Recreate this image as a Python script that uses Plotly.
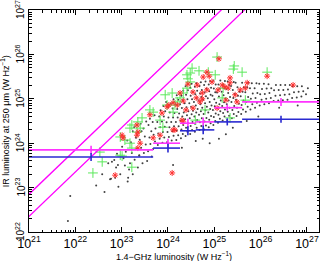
import numpy as np
import plotly.graph_objects as go

# ---------------- data (log10 values) ----------------
black_pts = [
# sparse low-luminosity tail
(21.89,22.81),(21.84,22.25),(22.45,23.05),(22.58,23.3),(22.63,22.9),(22.71,23.55),(22.77,23.2),(22.84,23.62),
(22.88,23.45),(22.93,23.02),(22.9,23.76),(22.97,23.3),(23.04,23.66),(23.01,23.92),(23.07,23.5),(23.13,23.14),
(23.09,23.81),(23.12,24.06),(23.16,23.41),(22.79,23.58),(22.75,23.19),(22.92,23.51),(23.14,23.22),(22.86,23.22),
(23.38,23.73),(23.24,23.3),(23.35,23.45),(23.45,23.55),(23.55,23.6),(23.65,23.7),(24.11,23.51),
# main cloud
(23.18,23.55),(23.22,23.78),(23.2,24.02),(23.24,24.27),
(23.28,23.63),(23.33,23.88),(23.31,24.12),(23.27,24.36),
(23.38,23.72),(23.42,23.9),(23.39,24.08),(23.43,24.27),(23.41,24.44),
(23.48,23.78),(23.52,23.97),(23.5,24.15),(23.47,24.33),(23.53,24.49),
(23.57,23.82),(23.62,23.98),(23.6,24.13),(23.64,24.27),(23.58,24.41),(23.61,24.55),
(23.68,23.87),(23.72,24.04),(23.69,24.19),(23.73,24.33),(23.67,24.48),(23.71,24.63),
(23.78,23.96),(23.82,24.1),(23.79,24.22),(23.83,24.36),(23.77,24.48),(23.81,24.6),(23.84,24.74),
(23.88,24.01),(23.92,24.13),(23.89,24.25),(23.93,24.37),(23.87,24.49),(23.91,24.6),(23.94,24.72),(23.9,24.84),
(23.98,24.02),(24.02,24.14),(23.99,24.25),(24.03,24.36),(23.97,24.47),(24.01,24.58),(24.04,24.69),(24.0,24.81),
(23.96,24.93),
(24.08,24.06),(24.12,24.17),(24.09,24.27),(24.13,24.38),(24.07,24.48),(24.11,24.58),(24.14,24.68),(24.1,24.78),
(24.06,24.89),(24.12,24.99),
(24.18,24.07),(24.22,24.18),(24.19,24.28),(24.23,24.38),(24.17,24.48),(24.21,24.58),(24.24,24.67),(24.2,24.77),
(24.16,24.87),(24.22,24.98),(24.19,25.08),
(24.28,24.11),(24.32,24.21),(24.29,24.31),(24.33,24.41),(24.27,24.5),(24.31,24.6),(24.34,24.69),(24.3,24.79),
(24.26,24.88),(24.32,24.97),(24.29,25.07),(24.33,25.18),
(24.38,24.16),(24.42,24.26),(24.39,24.35),(24.43,24.45),(24.37,24.54),(24.41,24.63),(24.44,24.72),(24.4,24.81),
(24.36,24.9),(24.42,24.99),(24.39,25.09),(24.43,25.19),(24.38,25.28),
(24.48,24.21),(24.52,24.3),(24.49,24.39),(24.53,24.48),(24.47,24.56),(24.51,24.65),(24.54,24.73),(24.5,24.82),
(24.46,24.9),(24.52,24.99),(24.49,25.07),(24.53,25.16),(24.48,25.25),(24.51,25.34),
(24.58,24.26),(24.62,24.35),(24.59,24.43),(24.63,24.52),(24.57,24.6),(24.61,24.69),(24.64,24.77),(24.6,24.85),
(24.56,24.93),(24.62,25.02),(24.59,25.1),(24.63,25.18),(24.58,25.27),(24.61,25.35),
(24.68,24.3),(24.72,24.39),(24.69,24.47),(24.73,24.56),(24.67,24.64),(24.71,24.72),(24.74,24.8),(24.7,24.88),
(24.66,24.96),(24.72,25.04),(24.69,25.12),(24.73,25.2),(24.68,25.29),(24.71,25.37),
(24.78,24.31),(24.82,24.4),(24.79,24.49),(24.83,24.57),(24.77,24.66),(24.81,24.74),(24.84,24.82),(24.8,24.9),
(24.76,24.98),(24.82,25.06),(24.79,25.14),(24.83,25.23),(24.78,25.31),(24.81,25.39),
(24.88,24.36),(24.92,24.45),(24.89,24.53),(24.93,24.61),(24.87,24.69),(24.91,24.77),(24.94,24.85),(24.9,24.93),
(24.86,25.01),(24.92,25.09),(24.89,25.17),(24.93,25.25),(24.88,25.32),(24.91,25.4),
(24.98,24.41),(25.02,24.5),(24.99,24.59),(25.03,24.67),(24.97,24.75),(25.01,24.83),(25.04,24.91),(25.0,24.99),
(24.96,25.07),(25.02,25.15),(24.99,25.23),(25.03,25.32),(24.98,25.41),
(25.08,24.46),(25.12,24.55),(25.09,24.64),(25.13,24.72),(25.07,24.8),(25.11,24.88),(25.14,24.96),(25.1,25.05),
(25.06,25.14),(25.12,25.23),(25.09,25.32),(25.13,25.41),
(25.18,24.51),(25.22,24.6),(25.19,24.68),(25.23,24.76),(25.17,24.84),(25.21,24.92),(25.24,25.0),(25.2,25.08),
(25.16,25.16),(25.22,25.24),(25.19,25.32),(25.23,25.4),
(25.28,24.52),(25.32,24.62),(25.29,24.71),(25.33,24.8),(25.27,24.88),(25.31,24.96),(25.34,25.04),(25.3,25.13),
(25.26,25.22),(25.32,25.31),(25.29,25.39),
(25.38,24.56),(25.42,24.66),(25.39,24.75),(25.43,24.84),(25.37,24.93),(25.41,25.02),(25.44,25.11),(25.4,25.2),
(25.36,25.29),(25.42,25.38),
(25.48,24.61),(25.52,24.7),(25.49,24.8),(25.53,24.89),(25.47,24.98),(25.51,25.07),(25.54,25.16),(25.5,25.26),
(25.46,25.36),
(25.58,24.66),(25.62,24.76),(25.59,24.86),(25.63,24.96),(25.57,25.06),(25.61,25.16),(25.64,25.26),(25.6,25.36),
(25.68,24.71),(25.72,24.82),(25.69,24.93),(25.73,25.04),(25.67,25.15),(25.71,25.26),(25.74,25.36),
(25.78,24.76),(25.82,24.88),(25.79,25.0),(25.83,25.12),(25.77,25.24),(25.81,25.35),
(25.88,24.8),(25.92,24.91),(25.89,25.02),(25.93,25.13),(25.87,25.24),(25.91,25.35),
(25.98,24.85),(26.02,24.98),(25.99,25.1),(26.03,25.22),(25.97,25.34),
(26.08,24.88),(26.12,25.0),(26.09,25.11),(26.13,25.23),(26.07,25.34),
(26.18,24.9),(26.22,25.02),(26.19,25.13),(26.23,25.24),(26.17,25.33),
(26.28,24.95),(26.32,25.07),(26.29,25.19),(26.33,25.31),
(26.38,24.96),(26.42,25.08),(26.39,25.2),(26.43,25.31),
(26.48,24.97),(26.52,25.09),(26.49,25.2),(26.53,25.31),
(26.58,24.98),(26.62,25.1),(26.59,25.21),(26.63,25.31),
(26.68,25.02),(26.72,25.15),(26.69,25.28),
(26.78,25.03),(26.82,25.16),(26.79,25.28),
(26.88,25.05),(26.92,25.17),(26.89,25.28),
(26.98,25.1),(27.02,25.24),
# scattered points below the cloud
(24.9,24.0),(25.1,24.1),(25.4,24.35),(25.7,24.5),(24.6,24.05),(24.3,23.9),(25.95,24.6),(26.4,24.8),
(26.8,24.85),(25.25,24.2),(24.75,24.1),
]

green_pts = [
(25.06,25.94),(25.43,25.74),(25.41,25.67),(25.60,25.60),(26.14,25.60),(24.52,25.69),(24.48,25.58),(24.41,25.54),
(24.67,25.63),(24.87,25.60),(25.02,25.54),(24.43,25.45),(24.48,25.38),(24.41,25.24),(24.09,25.13),(23.94,25.09),
(24.26,25.02),(24.33,25.13),(25.19,25.24),(25.17,25.02),(24.11,24.70),(23.68,24.70),(23.61,24.75),(23.44,24.57),
(23.89,24.36),(24.15,24.86),(23.35,24.48),(23.22,24.41),(23.18,24.34),(23.40,24.34),(23.33,24.25),(22.97,24.14),
(23.07,24.07),(23.18,24.00),(23.22,23.89),(22.97,23.73),(22.58,23.58),(22.38,23.33),(23.22,23.46),(24.20,24.93),
(23.98,24.86),(22.53,23.80),(23.01,23.71),(24.80,24.75),(25.34,24.57),(24.59,24.52),(23.83,24.52),(25.67,24.97),
]

red_pts = [
(25.10,25.90),(26.14,25.51),(24.84,25.60),(24.89,25.51),(25.34,25.47),(25.71,25.36),(26.70,25.31),(24.43,25.33),
(24.63,25.31),(24.84,25.20),(25.17,25.31),(25.23,25.27),(25.30,25.24),(25.08,25.20),(24.76,25.49),(24.54,25.15),
(24.26,25.13),(24.74,25.13),(24.33,24.95),(24.69,24.93),(24.74,25.00),(24.02,24.86),(24.20,24.86),(25.06,24.79),
(24.54,24.79),(23.87,24.68),(23.61,24.64),(24.30,24.52),(24.33,24.48),(24.11,24.30),(23.68,24.12),(25.49,24.93),
(25.56,25.20),(25.34,25.36),(23.98,24.82),(24.11,24.91),(23.33,24.41),(23.35,24.25),(23.33,24.18),(23.01,24.18),
(23.03,24.12),(23.40,24.00),(23.35,23.89),(24.15,24.30),(22.86,23.28),(24.09,23.33),(25.45,25.09),(24.95,25.38),
(25.67,25.24),(24.61,25.02),(25.25,24.97),(24.39,24.75),(23.83,24.18),
]

# binned stacks: bin edges / centre in log10 radio luminosity
bin_lo = [20.9, 23.68, 24.26, 24.60, 25.00, 25.60]
bin_hi = [23.68, 24.26, 24.60, 25.00, 25.60, 27.40]
bin_cen = [22.34, 24.00, 24.43, 24.76, 25.28, 26.44]
mag_val = [23.85, 24.00, 24.45, 24.48, 24.80, 24.93]
mag_err = [0.09, 0.10, 0.10, 0.10, 0.07, 0.09]
blue_val = [23.69, 23.89, 24.28, 24.30, 24.48, 24.54]
blue_err = [0.09, 0.10, 0.10, 0.10, 0.08, 0.08]

q_offsets = [1.85, 1.35]          # log(L_IR) - log(L_1.4) for the two lines
line_x = [20.5, 27.5]

x_range = [21, 27.26]
y_range = [22, 27]
y_tick_exps = [22, 23, 24, 25, 26, 27]

# ---------------- figure ----------------
fig = go.Figure()

bx, by = zip(*black_pts)
fig.add_trace(go.Scatter(x=10.0**np.array(bx), y=10.0**np.array(by), mode="markers",
                         marker=dict(size=2, color="#404040", line=dict(width=0)),
                         hoverinfo="skip"))

gx, gy = zip(*green_pts)
fig.add_trace(go.Scatter(x=10.0**np.array(gx), y=10.0**np.array(gy), mode="markers",
                         marker=dict(symbol="cross-thin-open", size=7, color="#5ce85c",
                                     line=dict(width=1, color="#5ce85c")),
                         hoverinfo="skip"))

rx, ry = zip(*red_pts)
fig.add_trace(go.Scatter(x=10.0**np.array(rx), y=10.0**np.array(ry), mode="markers",
                         marker=dict(symbol="asterisk-open", size=5, color="#ff3030",
                                     line=dict(width=1, color="#ff3030")),
                         hoverinfo="skip"))

for q in q_offsets:
    lx = np.array(line_x, dtype=float)
    fig.add_trace(go.Scatter(x=10.0**lx, y=10.0**(lx + q), mode="lines",
                             line=dict(color="#ff00ff", width=1.3), hoverinfo="skip"))

def stack_trace(vals, errs, color):
    cen = np.array(bin_cen, dtype=float)
    v = np.array(vals, dtype=float)
    e = np.array(errs, dtype=float)
    xc = 10.0**cen
    yc = 10.0**v
    return go.Scatter(
        x=xc, y=yc, mode="markers",
        marker=dict(size=1, color=color),
        error_x=dict(type="data", symmetric=False,
                     array=10.0**np.array(bin_hi, dtype=float) - xc,
                     arrayminus=xc - 10.0**np.array(bin_lo, dtype=float),
                     color=color, thickness=1.6, width=0),
        error_y=dict(type="data", symmetric=False,
                     array=10.0**(v + e) - yc, arrayminus=yc - 10.0**(v - e),
                     color=color, thickness=1.6, width=0),
        hoverinfo="skip")

fig.add_trace(stack_trace(mag_val, mag_err, "#ff33ff"))
fig.add_trace(stack_trace(blue_val, blue_err, "#2a2ad0"))

axis_common = dict(
    type="log", showgrid=False, zeroline=False,
    showline=True, linecolor="black", linewidth=1, mirror="allticks",
    ticks="inside", ticklen=5, tickcolor="black", tickwidth=1,
    dtick=1, exponentformat="power", showexponent="all",
    tickfont=dict(family="Liberation Sans, Arial, sans-serif", size=10, color="black"),
    minor=dict(ticks="inside", ticklen=2.5, tickcolor="black", dtick="D1", showgrid=False),
)

fig.update_xaxes(**axis_common, range=x_range)
fig.update_yaxes(**axis_common, range=y_range, showticklabels=False)

# rotated y tick labels, centred on their decade ticks
tick_annots = [
    dict(text=f"10<sup>{k}</sup>", xref="paper", yref="y", x=0, y=k,
         xanchor="right", yanchor="middle", xshift=-1, textangle=-90, showarrow=False,
         font=dict(size=10))
    for k in y_tick_exps
]

fig.update_layout(
    width=321, height=261,
    margin=dict(l=29, r=2, t=10, b=29),
    paper_bgcolor="white", plot_bgcolor="white",
    showlegend=False,
    font=dict(family="Liberation Sans, Arial, sans-serif", size=9, color="black"),
    annotations=tick_annots + [
        dict(text="1.4\u2212GHz luminosity (W Hz<sup>\u22121</sup>)", xref="paper", yref="paper",
             x=0.5, y=-0.07, xanchor="center", yanchor="top", showarrow=False,
             font=dict(size=9)),
        dict(text="IR luminosity at 250 \u03bcm (W Hz<sup>\u22121</sup>)", xref="paper", yref="paper",
             x=-0.082, y=0.5, xanchor="center", yanchor="middle", textangle=-90, showarrow=False,
             font=dict(size=9)),
    ],
)

fig.write_html("out.html", config={"displayModeBar": False},
               post_script="document.body.style.margin='0';document.body.style.overflow='hidden';")
